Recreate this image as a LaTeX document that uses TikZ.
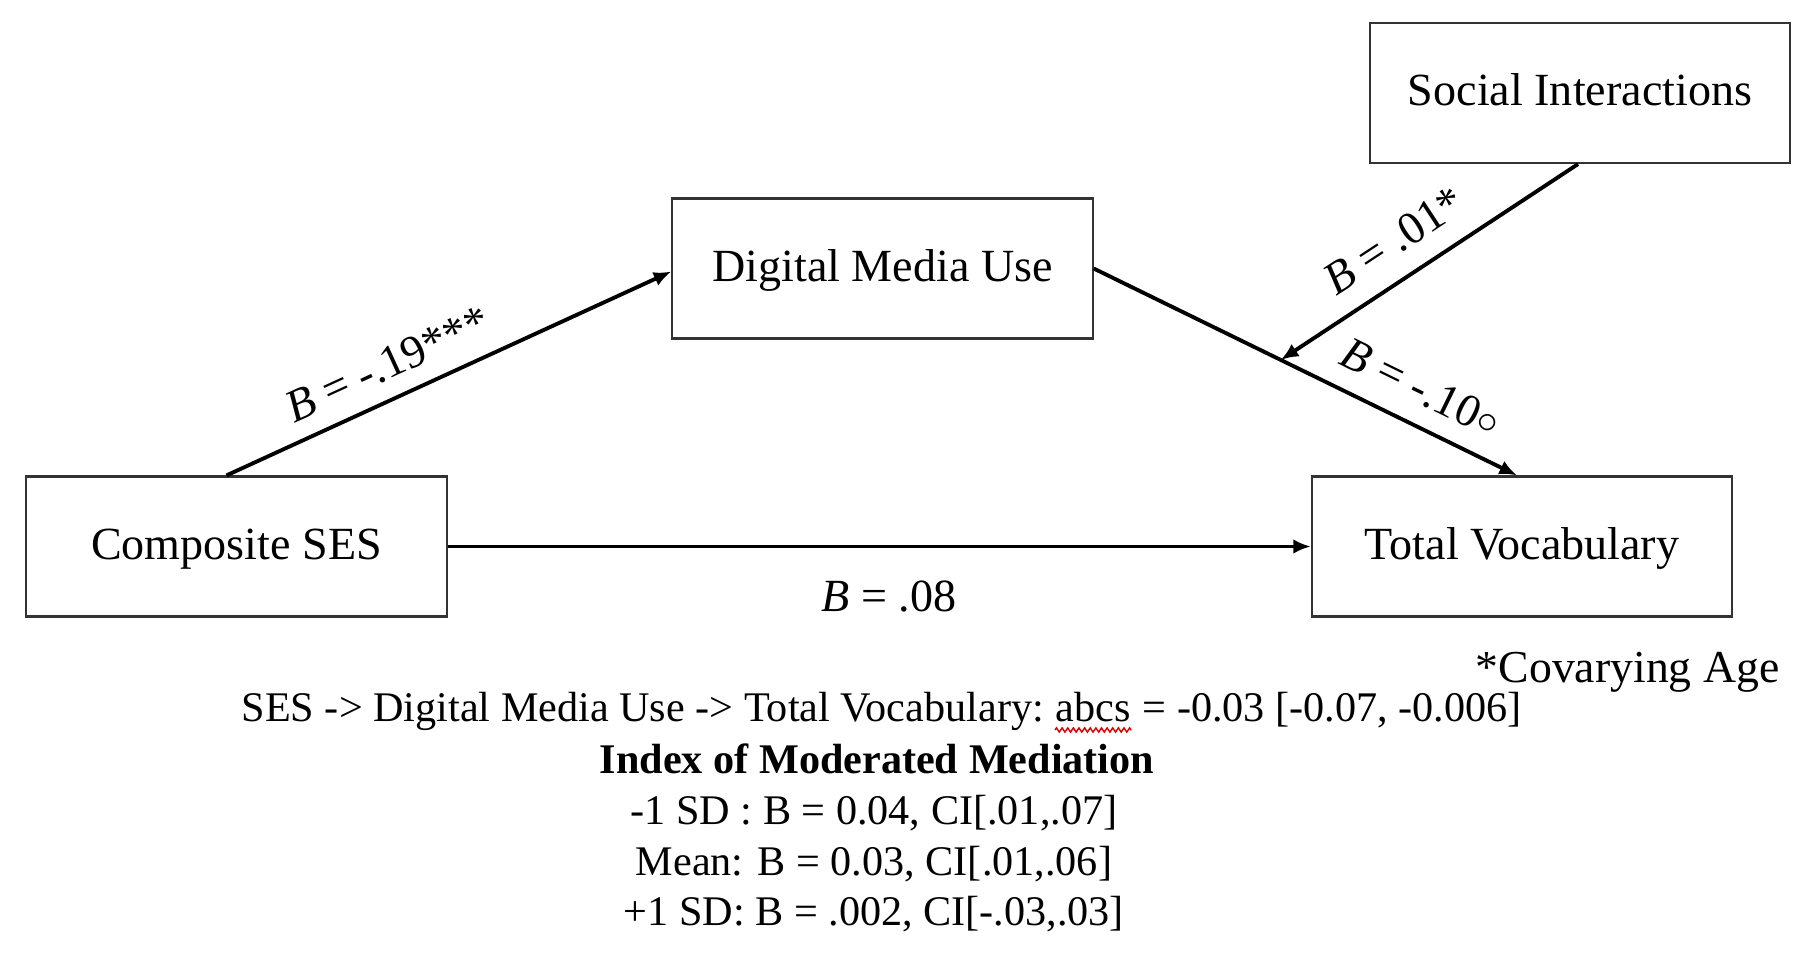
\documentclass[tikz,border=0pt]{standalone}
\usepackage{fontspec}
\setmainfont{Liberation Serif}
\usetikzlibrary{calc,arrows.meta,decorations.pathmorphing}
\begin{document}
\begin{tikzpicture}[x=0.01cm,y=-0.01cm,
  box/.style={draw=black!80, line width=0.6pt, minimum width=4.2cm, minimum height=1.4cm,
    inner sep=0pt, text height=0.72em, text depth=0pt, font=\fontsize{13.1}{15}\selectfont},
  conn/.style={draw=black, line width=1.1pt, -{Latex[length=5pt,width=4.2pt]}},
  lab/.style={inner sep=0pt, font=\fontsize{13.1}{15}\selectfont, sloped},
  btxt/.style={inner sep=0pt, font=\fontsize{12}{14}\selectfont, anchor=base},
]
\useasboundingbox (0,0) rectangle (1800,961);
\fill[white] (0,0) rectangle (1800,961);

% boxes
\node[box] (soc) at (1580,93) {Social Interactions};
\node[box] (dmu) at (882.5,268.5) {Digital Media Use};
\node[box] (ses) at (236.5,546.5) {Composite SES};
\node[box] (tv)  at (1522,546.5) {Total Vocabulary};

% helper coordinates
\coordinate (sesout) at ($(ses.north)+(-10,0)$);
\coordinate (dmuin) at ($(dmu.west)+(0,3)$);
\coordinate (tvin) at ($(tv.north)+(-5,0)$);
\coordinate (socout) at ($(soc.south)+(-2,0)$);
\coordinate (mod) at ($(dmu.east)!0.442!(tvin)$);

% connectors
\draw[conn] (sesout) -- node[lab, above, outer sep=0.185cm, pos=0.394] {\textit{B} = -.19***} (dmuin);
\draw[conn] (dmu.east) -- node[lab, above, outer sep=0.21cm, pos=0.735] {\textit{B} = -.10\raisebox{0.05em}{$\circ$}} (tvin);
\draw[conn] (socout) -- node[lab, above, outer sep=0.22cm, pos=0.55] {\textit{B} = .01*} (mod);
\draw[conn] (ses.east) -- node[lab, below, outer sep=0.34cm, pos=0.511] {\textit{B} = .08} (tv.west);

% note
\node[inner sep=0pt, font=\fontsize{13}{15}\selectfont, anchor=base east] (cov) at (1780,682) {*Covarying Age};

% bottom text
\node[btxt, anchor=base west] (l1a) at (241,721) {SES -> Digital Media Use -> Total Vocabulary:};
\node[btxt, anchor=base west] (l1b) at ($(l1a.base east)+(10.5,0)$) {abcs};
\node[btxt, anchor=base west] (l1c) at ($(l1b.base east)+(10.5,0)$) {= -0.03 [-0.07, -0.006]};
\draw[red!85!black, line width=0.4pt, decorate, decoration={zigzag, segment length=1.6pt, amplitude=0.6pt}]
  ($(l1b.base west)+(0,9)$) -- ($(l1b.base east)+(0,9)$);

\node[btxt, font=\fontsize{12}{14}\selectfont\bfseries] (idx) at (877,773) {Index of Moderated Mediation};
\node[btxt] (m1) at (874,824) {-1 SD : B = 0.04, CI[.01,.07]};
\node[btxt] (m2) at (874,875) {Mean: B = 0.03, CI[.01,.06]};
\node[btxt] (m3) at (874,925) {+1 SD: B = .002, CI[-.03,.03]};
\end{tikzpicture}
\end{document}
